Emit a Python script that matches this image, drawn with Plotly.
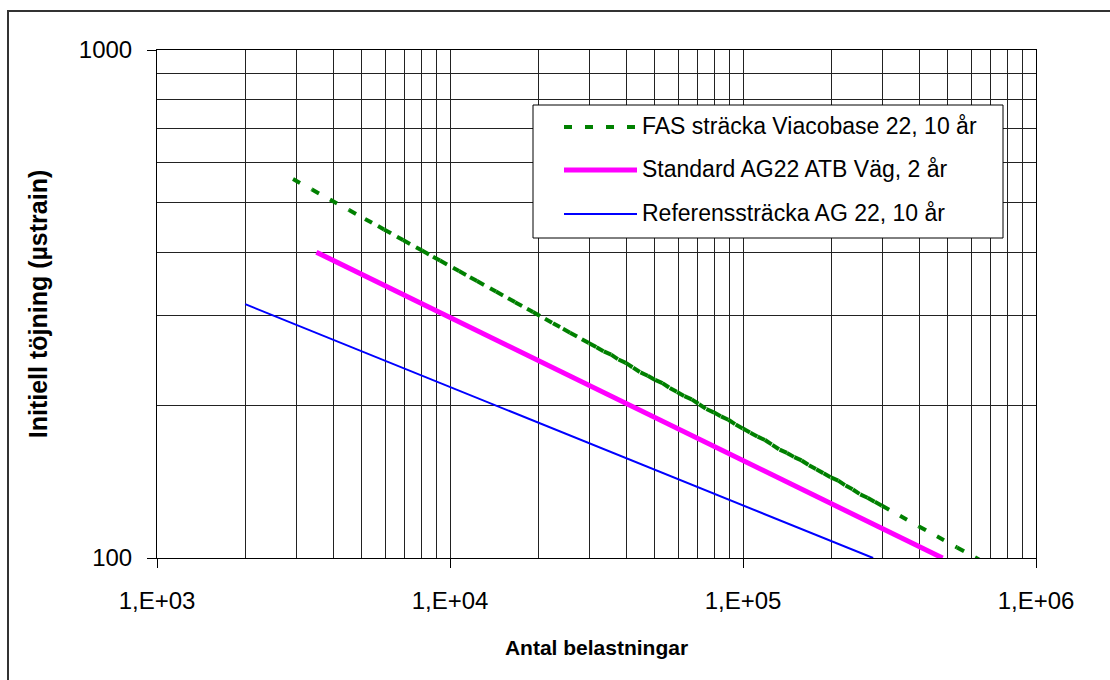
import plotly.graph_objects as go

# Load cycles (N) and initial strain (µstrain) for each pavement section
fas_cycles = [2912, 3381, 3895, 4523, 5128, 5679, 5955, 6594, 6914, 7656, 8026,
              8750, 9246, 10240, 10735, 11705, 12367, 13697, 14358, 15776, 16673,
              18324, 19205, 21103, 22467, 24311, 25686,
              28184, 29854, 31623, 33497, 35481, 37584, 39811, 42170, 44668, 47315,
              50119, 53088, 56234, 59566, 63096, 66834, 70795, 74989, 79433, 84140,
              89125, 94406, 100000, 105925, 112202, 118850, 125893, 133352, 141254,
              149624, 158489, 167880, 177828, 188365, 199526, 211349, 223872, 237137,
              251189, 266073, 281838, 298538,
              343500, 398700, 459300, 537600, 619300, 719100]
fas_strain = [557.2, 531.4, 507.8, 484.1, 465.0, 450.1, 443.3, 429.1, 422.6, 409.0, 402.9,
              391.9, 385.1, 372.7, 367.1, 357.1, 350.9, 339.6, 334.5, 324.6, 318.9,
              309.4, 304.8, 295.7, 289.8, 282.6, 277.7,
              269.6, 264.7, 259.9, 255.1, 251.3, 245.9, 242.2, 237.0, 231.9, 228.4,
              224.2, 221.0, 216.1, 212.2, 208.3, 205.2, 200.8, 196.5, 193.5, 190.0,
              187.1, 183.1, 179.8, 176.5, 173.3, 170.7, 167.0, 163.4, 161.0,
              158.0, 155.6, 152.3, 149.5, 146.8, 144.1, 142.0, 138.9, 136.4,
              133.4, 131.4, 129.0, 126.7,
              121.1, 115.4, 110.3, 104.9, 100.3, 95.6]

std_cycles = [3500, 480000]
std_strain = [400, 100]

ref_cycles = [2000, 278000]
ref_strain = [316, 100]

series_names = ["FAS sträcka Viacobase 22, 10 år",
                "Standard AG22 ATB Väg, 2 år",
                "Referenssträcka AG 22, 10 år"]

x_ticks = [1e3, 1e4, 1e5, 1e6]
x_ticktext = ["1,E+03", "1,E+04", "1,E+05", "1,E+06"]
y_ticks = [100, 1000]
y_ticktext = ["100", "1000"]

GREEN, MAGENTA, BLUE = "#008000", "#FF00FF", "#0000FF"
FONT = "Liberation Sans, Arial, sans-serif"
GRID = "#222222"

W, H = 1110, 680
ML, MR, MT, MB = 157, 74, 50, 122
PW, PH = W - ML - MR, H - MT - MB


def px(x):
    return (x - ML) / PW


def py(y):
    return (H - MB - y) / PH


# Excel-style dashing restarts at every data point, so each segment is its own sub-path
seg_x, seg_y = [], []
for i in range(len(fas_cycles) - 1):
    seg_x += [fas_cycles[i], fas_cycles[i + 1], None]
    seg_y += [fas_strain[i], fas_strain[i + 1], None]

fig = go.Figure()
fig.add_trace(go.Scatter(x=ref_cycles, y=ref_strain, mode="lines", name=series_names[2],
                         line=dict(color=BLUE, width=2), showlegend=False))
fig.add_trace(go.Scatter(x=std_cycles, y=std_strain, mode="lines", name=series_names[1],
                         line=dict(color=MAGENTA, width=5), showlegend=False))
fig.add_trace(go.Scatter(x=seg_x, y=seg_y, mode="lines", name=series_names[0],
                         connectgaps=False,
                         line=dict(color=GREEN, width=4, dash="8px,13px"), showlegend=False))

minor_x = [m * 10 ** d for d in range(3, 6) for m in range(2, 10)]
minor_y = [m * 100 for m in range(2, 10)]

fig.update_xaxes(type="log", range=[3, 6], tickvals=x_ticks, ticktext=x_ticktext,
                 ticks="outside", ticklen=9, tickwidth=1, tickcolor="black",
                 showline=True, linecolor="black", linewidth=1, mirror=True,
                 showgrid=True, gridcolor=GRID, gridwidth=1,
                 minor=dict(tickvals=minor_x, showgrid=True, gridcolor=GRID, gridwidth=1),
                 tickfont=dict(family=FONT, size=24, color="black"),
                 ticklabelstandoff=12, zeroline=False,
                 title=dict(text="<b>Antal belastningar</b>", standoff=27,
                            font=dict(family=FONT, size=21, color="black")))
fig.update_yaxes(type="log", range=[2, 3], tickvals=y_ticks, ticktext=y_ticktext,
                 ticks="outside", ticklen=9, tickwidth=1, tickcolor="black",
                 showline=True, linecolor="black", linewidth=1, mirror=True,
                 showgrid=True, gridcolor=GRID, gridwidth=1,
                 minor=dict(tickvals=minor_y, showgrid=True, gridcolor=GRID, gridwidth=1),
                 tickfont=dict(family=FONT, size=24, color="black"),
                 ticklabelstandoff=10, zeroline=False,
                 title=dict(text="<b>Initiell töjning (µstrain)</b>", standoff=24,
                            font=dict(family=FONT, size=25, color="black")))

shapes = [
    # chart frame
    dict(type="rect", xref="paper", yref="paper", x0=px(8), x1=px(1125), y0=py(695), y1=py(11),
         line=dict(color="#333333", width=2), fillcolor="rgba(0,0,0,0)", layer="above"),
    # legend box
    dict(type="rect", xref="paper", yref="paper", x0=px(533), x1=px(1003), y0=py(238), y1=py(105),
         line=dict(color="black", width=1), fillcolor="white", layer="above"),
]
legend_rows = [(127, GREEN, 4, "8px,13px", series_names[0]),
               (170, MAGENTA, 5, "solid", series_names[1]),
               (214, BLUE, 2, "solid", series_names[2])]
annotations = []
for ypix, col, wd, dash, label in legend_rows:
    shapes.append(dict(type="line", xref="paper", yref="paper", x0=px(564), x1=px(637),
                       y0=py(ypix), y1=py(ypix), line=dict(color=col, width=wd, dash=dash),
                       layer="above"))
    annotations.append(dict(xref="paper", yref="paper", x=px(640), y=py(ypix - 1), text=label,
                            showarrow=False, xanchor="left", yanchor="middle",
                            font=dict(family=FONT, size=23, color="black")))

fig.update_layout(width=W, height=H, margin=dict(l=ML, r=MR, t=MT, b=MB),
                  paper_bgcolor="white", plot_bgcolor="white",
                  shapes=shapes, annotations=annotations, showlegend=False)

fig.write_html("out.html")
